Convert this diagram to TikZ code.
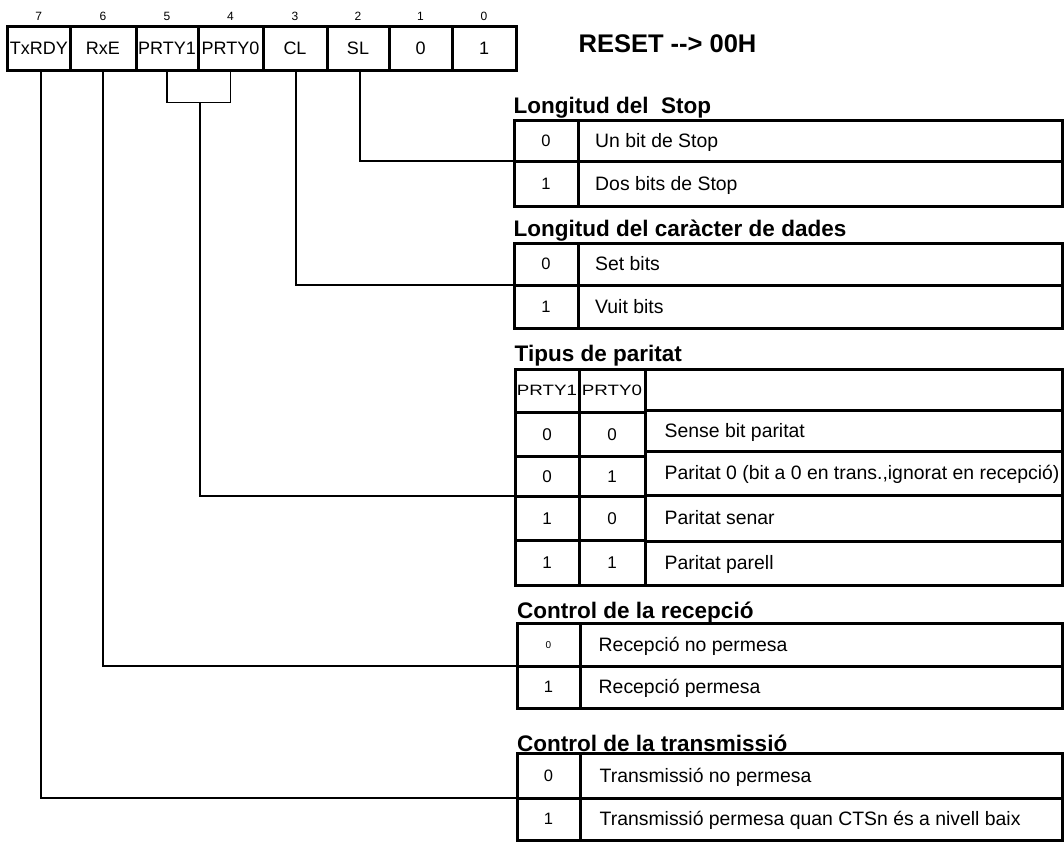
\documentclass[tikz,border=0pt]{standalone}
\usepackage{fontspec}
\setmainfont{Liberation Sans}
\usetikzlibrary{calc}

% \cellnode[style]{name}{x1}{y1}{x2}{y2}{text}: a framed table cell between two corners
\newcommand{\cellnode}[7][]{%
  \pgfmathsetmacro{\cellW}{#5-#3}%
  \pgfmathsetmacro{\cellH}{#6-#4}%
  \node[cell, minimum width=\cellW pt, minimum height=\cellH pt, #1] (#2) at (#3,#4) {#7};}

\begin{document}
\begin{tikzpicture}[x=1pt, y=-1pt,
  cell/.style={draw, line width=3pt, inner sep=0pt, outer sep=0pt, anchor=north west},
  regtxt/.style={font=\fontsize{18}{18}\selectfont, text height=12.9pt, text depth=0pt},
  keytxt/.style={font=\fontsize{16.5}{17}\selectfont, text height=11.8pt, text depth=0pt},
  parkey/.style={font=\fontsize{17}{17}\selectfont, text height=12.2pt, text depth=0pt},
  smallkey/.style={font=\fontsize{10}{10}\selectfont, text height=7.2pt, text depth=0pt},
  hdrtxt/.style={font=\fontsize{15}{15}\selectfont, text height=10.8pt, text depth=0pt},
  desc/.style={anchor=west, inner sep=0pt, font=\fontsize{19.4}{20}\selectfont, text height=13.9pt, text depth=0pt},
  bitnum/.style={anchor=south, inner sep=0pt, font=\fontsize{12}{12}\selectfont, text height=8.6pt, text depth=0pt},
  title/.style={anchor=base west, inner sep=0pt, font=\bfseries\fontsize{22.5}{23}\selectfont},
  wire/.style={line width=1.8pt},
]
\useasboundingbox (0,0) rectangle (1064,843);

% ---------- register ----------
\cellnode[regtxt]{r7}{7.6}{27}{70}{70}{TxRDY}
\cellnode[regtxt]{r6}{70}{27}{136}{70}{RxE}
\cellnode[regtxt]{r5}{136}{27}{198}{70}{PRTY1}
\cellnode[regtxt]{r4}{198}{27}{263}{70}{PRTY0}
\cellnode[regtxt]{r3}{263}{27}{327}{70}{CL}
\cellnode[regtxt]{r2}{327}{27}{389}{70}{SL}
\cellnode[regtxt]{r1}{389}{27}{452}{70}{0}
\cellnode[regtxt]{r0}{452}{27}{516}{70}{1}

\foreach \b in {0,...,7}
  \node[bitnum, above=6.3pt] at (r\b.north) {\b};

\node[anchor=base, inner sep=0pt, font=\bfseries\fontsize{25.5}{26}\selectfont] (reset) at (667.5,52.3) {RESET -{}-> 00H};

% ---------- stop length ----------
\node[title] (tstop) at (513.5,113.3) {Longitud del\ \ Stop};
\cellnode[keytxt]{s0k}{514}{120}{578}{161}{0}
\cellnode{s0d}{578}{120}{1062}{161}{}
\cellnode[keytxt]{s1k}{514}{161}{578}{206}{1}
\cellnode{s1d}{578}{161}{1062}{206}{}
\node[desc] at ([xshift=17pt]s0d.west) {Un bit de Stop};
\node[desc] at ([xshift=17pt]s1d.west) {Dos bits de Stop};

% ---------- character length ----------
\node[title] (tchar) at (513.5,236.7) {Longitud del caràcter de dades};
\cellnode[keytxt]{c0k}{514}{243}{578}{285}{0}
\cellnode{c0d}{578}{243}{1062}{285}{}
\cellnode[keytxt]{c1k}{514}{285}{578}{328}{1}
\cellnode{c1d}{578}{285}{1062}{328}{}
\node[desc] at ([xshift=17pt]c0d.west) {Set bits};
\node[desc] at ([xshift=17pt]c1d.west) {Vuit bits};

% ---------- parity ----------
\node[title] (tpar) at (514.5,361.7) {Tipus de paritat};
\cellnode[hdrtxt]{ph1}{515}{369}{579}{412}{\scalebox{1.25}[1]{PRTY1}}
\cellnode[hdrtxt]{ph0}{579}{369}{645}{412}{\scalebox{1.25}[1]{PRTY0}}
\cellnode{phd}{645}{369}{1062}{410}{}
\cellnode[parkey]{p0a}{515}{412}{579}{456}{0}
\cellnode[parkey]{p0b}{579}{412}{645}{456}{0}
\cellnode[parkey]{p1a}{515}{456}{579}{496}{0}
\cellnode[parkey]{p1b}{579}{456}{645}{496}{1}
\cellnode[parkey]{p2a}{515}{496}{579}{540}{1}
\cellnode[parkey]{p2b}{579}{496}{645}{540}{0}
\cellnode[parkey]{p3a}{515}{540}{579}{585}{1}
\cellnode[parkey]{p3b}{579}{540}{645}{585}{1}
\cellnode{pd0}{645}{410}{1062}{451}{}
\cellnode{pd1}{645}{451}{1062}{495}{}
\cellnode{pd2}{645}{495}{1062}{541}{}
\cellnode{pd3}{645}{541}{1062}{585}{}
\node[desc] at ([xshift=19.5pt]pd0.west) {Sense bit paritat};
\node[desc] at ([xshift=19.5pt]pd1.west) {Paritat 0 (bit a 0 en trans.,ignorat en recepció)};
\node[desc] at ([xshift=19.5pt]pd2.west) {Paritat senar};
\node[desc] at ([xshift=19.5pt]pd3.west) {Paritat parell};

% ---------- reception ----------
\node[title] (trec) at (517,618.3) {Control de la recepció};
\cellnode[smallkey]{q0k}{517}{623}{580}{666}{0}
\cellnode{q0d}{580}{623}{1062}{666}{}
\cellnode[keytxt]{q1k}{517}{666}{580}{708}{1}
\cellnode{q1d}{580}{666}{1062}{708}{}
\node[desc] at ([xshift=18.5pt]q0d.west) {Recepció no permesa};
\node[desc] at ([xshift=18.5pt]q1d.west) {Recepció permesa};

% ---------- transmission ----------
\node[title] (ttx) at (517,751.7) {Control de la transmissió};
\cellnode[keytxt]{t0k}{517}{753}{580}{798}{0}
\cellnode{t0d}{580}{753}{1062}{798}{}
\cellnode[keytxt]{t1k}{517}{798}{580}{840}{1}
\cellnode{t1d}{580}{798}{1062}{840}{}
\node[desc] at ([xshift=19.5pt]t0d.west) {Transmissió no permesa};
\node[desc] at ([xshift=19.5pt]t1d.west) {Transmissió permesa quan CTSn és a nivell baix};

% ---------- connectors ----------
\draw[wire] (r5.south) -- ++(0,32.5) -| (r4.south);
\coordinate (pm) at ($(r5.south)!0.5!(r4.south) + (1,32.5)$);
\draw[wire] (pm) |- (p1a.south west);
\draw[wire] ([xshift=2pt]r7.south) |- (t0k.south west);
\draw[wire] (r6.south) |- (q0k.south west);
\draw[wire] ([xshift=1pt]r3.south) |- (c0k.south west);
\draw[wire] ([xshift=2pt]r2.south) |- (s0k.south west);
\end{tikzpicture}
\end{document}
